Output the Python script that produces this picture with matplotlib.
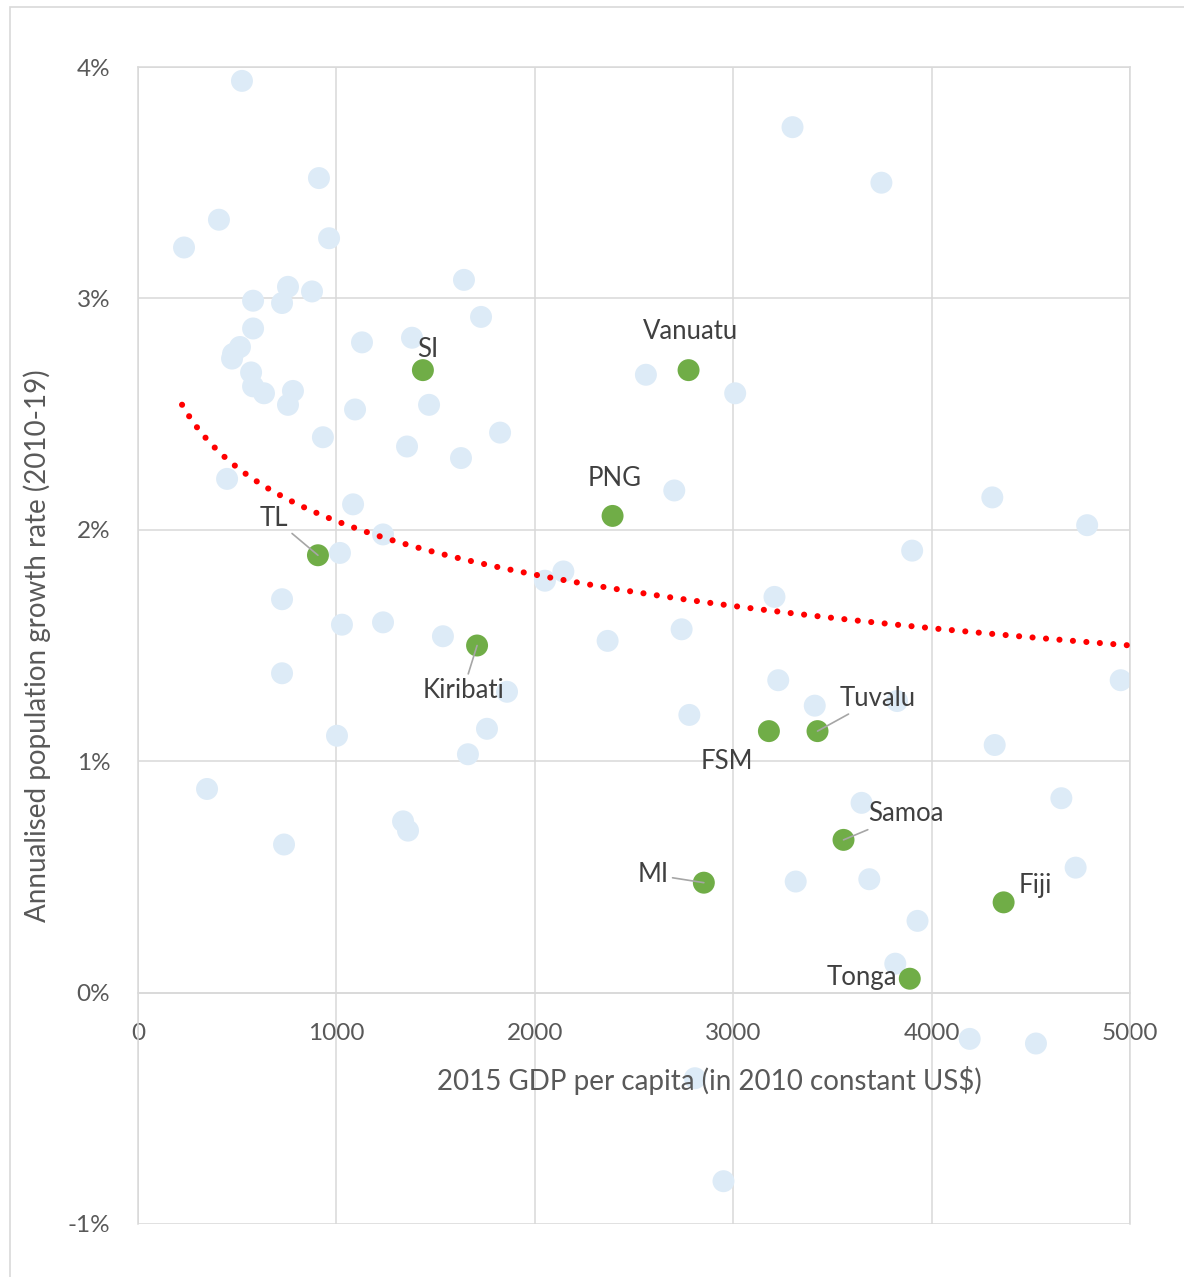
import numpy as np
import matplotlib.pyplot as plt
from matplotlib.patches import Rectangle

# other countries (light blue)
other_gdp = [524, 232, 408, 912, 963, 580, 726, 756, 877, 580, 514, 479, 474, 570, 580,
             635, 781, 756, 1129, 1381, 1467, 1094, 1825, 932, 1356, 1628, 449, 1084,
             1643, 1729, 1235, 1018, 726, 1028, 1235, 1537, 1860, 726, 1759, 1663, 1003,
             348, 1336, 1361, 736, 2051, 2144, 3299, 3747, 2560, 3010, 2703, 4306, 4784,
             3902, 3208, 2367, 2740, 4953, 3227, 3411, 3826, 2779, 4318, 4654, 3647, 4726,
             3686, 3315, 3929, 3817, 4192, 4526, 2807, 2951]
other_growth = [3.94, 3.22, 3.34, 3.52, 3.26, 2.99, 2.98, 3.05, 3.03, 2.87, 2.79, 2.76, 2.74,
                2.68, 2.62, 2.59, 2.60, 2.54, 2.81, 2.83, 2.54, 2.52, 2.42, 2.40, 2.36, 2.31,
                2.22, 2.11, 3.08, 2.92, 1.98, 1.90, 1.70, 1.59, 1.60, 1.54, 1.30, 1.38, 1.14,
                1.03, 1.11, 0.88, 0.74, 0.70, 0.64, 1.78, 1.82, 3.74, 3.50, 2.67, 2.59, 2.17,
                2.14, 2.02, 1.91, 1.71, 1.52, 1.57, 1.35, 1.35, 1.24, 1.26, 1.20, 1.07, 0.84,
                0.82, 0.54, 0.49, 0.48, 0.31, 0.125, -0.20, -0.22, -0.37, -0.815]

# Pacific countries (green)
pac_names = ["SI", "Vanuatu", "PNG", "TL", "Kiribati", "Tuvalu", "FSM", "Samoa", "MI", "Tonga", "Fiji"]
pac_gdp = [1436, 2775, 2392, 907, 1709, 3425, 3180, 3556, 2852, 3890, 4363]
pac_growth = [2.69, 2.69, 2.06, 1.89, 1.50, 1.13, 1.13, 0.66, 0.475, 0.06, 0.39]

# logarithmic trend line: y = a + b*ln(x)
trend_a = 4.345
trend_b = -0.334
trend_start = 222
trend_end = 5000

# label offsets in pixels (dx, dy) and whether a leader line is drawn
label_offsets = {
    "SI": (5, 21, False), "Vanuatu": (2, 39, False), "PNG": (2, 37, False),
    "TL": (-44, 37, True), "Kiribati": (-14, -45, True), "Tuvalu": (60, 33, True),
    "FSM": (-42, -30, False), "Samoa": (62, 26, True), "MI": (-51, 8, True),
    "Tonga": (-48, 1, False), "Fiji": (32, 17, False),
}

plt.rcParams['font.family'] = ['Lato', 'DejaVu Sans']
text_col = '#595959'
grid_col = '#D9D9D9'

fig = plt.figure(figsize=(11.84, 12.77), dpi=100)
fig.patches.append(Rectangle((10 / 1184, -0.1), 1.2, 1.1 - 7 / 1277, transform=fig.transFigure,
                             fill=False, edgecolor=grid_col, linewidth=1.2))
ax = fig.add_axes([138 / 1184, 1 - 1224 / 1277, (1130 - 138) / 1184, (1224 - 67) / 1277])

ax.set_xlim(0, 5000)
ax.set_ylim(-1, 4)
ax.set_xticks(range(0, 5001, 1000))
ax.set_yticks(range(-1, 5))
ax.set_yticklabels([f"{v}%" for v in range(-1, 5)])
ax.grid(True, color=grid_col, linewidth=1.1, zorder=0)
ax.set_axisbelow(True)
for side in ['top', 'right', 'left']:
    ax.spines[side].set_color(grid_col)
    ax.spines[side].set_linewidth(1.1)
ax.spines['bottom'].set_position(('data', 0))
ax.spines['bottom'].set_color(grid_col)
ax.spines['bottom'].set_linewidth(1.1)
ax.tick_params(axis='both', length=0, labelsize=17.5, labelcolor=text_col)
ax.tick_params(axis='x', pad=22)
ax.tick_params(axis='y', pad=20)

ax.scatter(other_gdp, other_growth, s=250, color='#DDEBF7', edgecolors='none', zorder=2)

tx = np.linspace(trend_start, trend_end, 300)
ax.plot(tx, trend_a + trend_b * np.log(tx), color='#FF0000', linewidth=4.4,
        linestyle=(0, (0.01, 2.2)), dash_capstyle='round', zorder=3)

ax.scatter(pac_gdp, pac_growth, s=250, color='#70AD47', edgecolors='none', zorder=4)

for name, x, y in zip(pac_names, pac_gdp, pac_growth):
    dx, dy, leader = label_offsets[name]
    props = None
    if leader:
        props = dict(arrowstyle='-', color='#A6A6A6', linewidth=1.2, shrinkA=1, shrinkB=0)
    ax.annotate(name, xy=(x, y), xytext=(dx * 0.72, dy * 0.72), textcoords='offset points',
                ha='center', va='center', fontsize=18.5, color='#404040',
                arrowprops=props, zorder=5)

ax.set_ylabel("Annualised population growth rate (2010-19)", fontsize=20, color=text_col, labelpad=12)
ax.text(2880, -0.38, "2015 GDP per capita (in 2010 constant US$)", ha='center', va='center',
        fontsize=20, color=text_col, zorder=5)

fig.savefig("out.png", dpi=100)
